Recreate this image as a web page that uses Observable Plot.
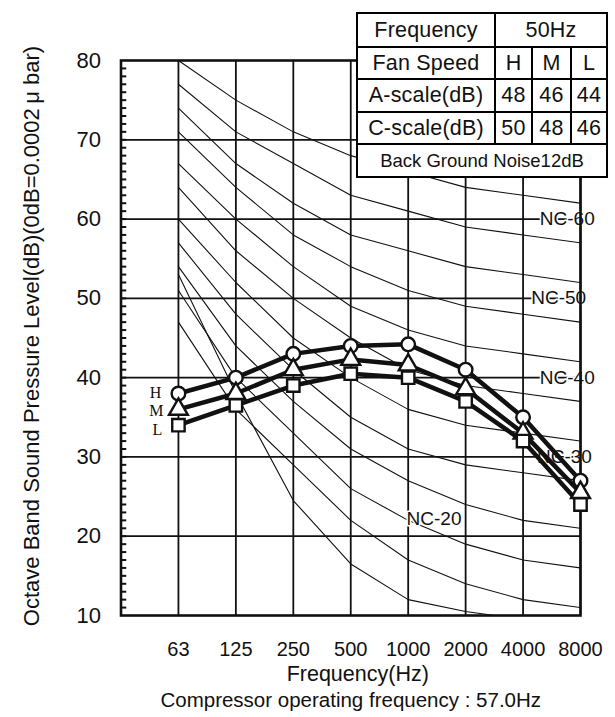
<!DOCTYPE html>
<html><head><meta charset="utf-8">
<script src="https://cdn.jsdelivr.net/npm/d3@7"></script>
<script src="https://cdn.jsdelivr.net/npm/@observablehq/plot@0.6"></script>
<style>
body{margin:0;background:#fff;font-family:"Liberation Sans",Arial,sans-serif;}
#wrap{position:relative;width:615px;height:717px;overflow:hidden;}
#tbl{position:absolute;left:356px;top:12px;width:252px;height:166px;display:grid;background:#000;padding:2px;gap:2px;box-sizing:border-box;
 grid-template-columns:136px 35px 37px 34px;grid-template-rows:32px 30px 31px 30px 31px;}
#tbl div{background:#fff;display:flex;align-items:center;justify-content:center;font-size:21.5px;color:#111;white-space:nowrap;letter-spacing:0.2px;}
#tbl div.small{font-size:18.5px;letter-spacing:0;}
</style></head>
<body><div id="wrap"></div>
<script>
// ---- data ----
const freqLabels = ["63","125","250","500","1000","2000","4000","8000"];
const speedNames = ["H","M","L"];
const splHigh = [38, 40, 43, 44, 44.2, 41, 35, 27];
const splMid  = [36, 38, 41, 42.3, 41.6, 38.6, 33, 25.5];
const splLow  = [34, 36.5, 39, 40.5, 40, 37, 32, 24];
const yTicks = [10, 20, 30, 40, 50, 60, 70, 80];

const ncNames = ["NC-10","NC-15","NC-20","NC-25","NC-30","NC-35","NC-40","NC-45","NC-50","NC-55","NC-60","NC-65"];
const ncValues = [
  [53, 38, 24.5, 16.5, 12, 10.5, 9.5, 9],
  [47, 36, 29, 22, 17, 14, 12, 11],
  [51, 40, 33, 26, 22, 19, 17, 16],
  [54, 44, 37, 31, 27, 24, 22, 21],
  [57, 48, 41, 35, 31, 29, 28, 27],
  [60, 52, 45, 40, 36, 34, 33, 32],
  [64, 56, 50, 45, 41, 39, 38, 37],
  [67, 60, 54, 49, 46, 44, 43, 42],
  [71, 64, 58, 54, 51, 49, 48, 47],
  [74, 67, 62, 58, 56, 54, 53, 52],
  [77, 71, 67, 63, 61, 59, 58, 57],
  [80, 75, 71, 68, 66, 64, 63, 62]
];
const ncLabelText = ["NC-60","NC-50","NC-40","NC-30","NC-20"];
const ncLabelLevel = [60, 50, 40, 30, 22.2];
const ncLabelBand = [7.77, 7.62, 7.77, 7.72, 5.45];

const tableRows = [
  ["Frequency", "50Hz"],
  ["Fan Speed", "H", "M", "L"],
  ["A-scale(dB)", "48", "46", "44"],
  ["C-scale(dB)", "50", "48", "46"],
  ["Back Ground Noise12dB"]
];
const yTitle = "Octave Band Sound Pressure Level(dB)(0dB=0.0002\u2009\u03bc bar)";
const xTitle = "Frequency(Hz)";
const caption = "Compressor operating frequency : 57.0Hz";

// ---- build tables for Plot ----
const series = [splHigh, splMid, splLow];
const pts = [];
series.forEach((arr, s) => arr.forEach((v, i) => pts.push({speed: speedNames[s], band: i + 1, db: v})));
const ncPts = [];
ncValues.forEach((arr, k) => arr.forEach((v, i) => ncPts.push({nc: ncNames[k], band: i + 1, db: v})));
const ncLabels = ncLabelText.map((t, i) => ({t, band: ncLabelBand[i], db: ncLabelLevel[i]}));
const speedLabels = speedNames.map((s, k) => ({s, band: 1, db: series[k][0]}));

const font = "Liberation Sans, Arial, sans-serif";
const serif = "Liberation Serif, serif";
const chart = Plot.plot({
  width: 615, height: 717,
  marginLeft: 120.5, marginRight: 35, marginTop: 60, marginBottom: 102,
  style: {fontFamily: font, background: "white", color: "#111"},
  x: {type: "linear", domain: [0, 8], axis: null},
  y: {domain: [10, 80], axis: null},
  marks: [
    Plot.ruleX(d3.range(1, 9), {stroke: "#111", strokeWidth: 1.8}),
    Plot.ruleY(yTicks.slice(1, -1), {stroke: "#111", strokeWidth: 1.8}),
    Plot.ruleY(d3.range(11, 80), {x1: 0, x2: 0.1, stroke: "#111", strokeWidth: 2}),
    Plot.line(ncPts, {x: "band", y: "db", z: "nc", stroke: "#111", strokeWidth: 1.1, clip: true}),
    Plot.text(ncLabels, {x: "band", y: "db", text: "t", fontSize: 19, fill: "#111", stroke: "white", strokeWidth: 3}),
    Plot.frame({stroke: "#111", strokeWidth: 2.6}),
    Plot.axisY({ticks: yTicks, tickSize: 0, tickPadding: 20, fontSize: 22, label: null}),
    Plot.axisX({ticks: d3.range(1, 9), tickFormat: i => freqLabels[i - 1], tickSize: 0, tickPadding: 26, fontSize: 20, label: null}),
    Plot.line(pts, {x: "band", y: "db", z: "speed", stroke: "#111", strokeWidth: 4.5}),
    Plot.dot(pts.filter(d => d.speed === "H"), {x: "band", y: "db", symbol: "circle", r: 6.8, fill: "white", stroke: "#111", strokeWidth: 2.4}),
    Plot.dot(pts.filter(d => d.speed === "M"), {x: "band", y: "db", symbol: "triangle", r: 7, fill: "white", stroke: "#111", strokeWidth: 2.4}),
    Plot.dot(pts.filter(d => d.speed === "L"), {x: "band", y: "db", symbol: "square", r: 7, fill: "white", stroke: "#111", strokeWidth: 2.4}),
    Plot.text(speedLabels.slice(0, 1), {x: "band", y: "db", text: "s", dx: -23, dy: -1, fontSize: 16, fontFamily: serif, fill: "#111"}),
    Plot.text(speedLabels.slice(1, 2), {x: "band", y: "db", text: "s", dx: -22, dy: 2, fontSize: 16, fontFamily: serif, fill: "#111"}),
    Plot.text(speedLabels.slice(2, 3), {x: "band", y: "db", text: "s", dx: -21, dy: 5, fontSize: 16, fontFamily: serif, fill: "#111"}),
    Plot.text([yTitle], {text: d => d, frameAnchor: "left", textAnchor: "middle", lineAnchor: "middle", rotate: -90, dx: -89, dy: -2, fontSize: 22, fill: "#111"}),
    Plot.text([xTitle], {text: d => d, frameAnchor: "bottom", lineAnchor: "middle", dx: 7, dy: 59, fontSize: 21.5, fill: "#111"}),
    Plot.text([caption], {text: d => d, frameAnchor: "bottom", lineAnchor: "middle", dy: 85, fontSize: 20.5, fill: "#111"})
  ]
});
const wrap = document.getElementById("wrap");
wrap.appendChild(chart);

// table overlay
const tbl = document.createElement("div");
tbl.id = "tbl";
tableRows.forEach((row, r) => {
  row.forEach((cell, c) => {
    const d = document.createElement("div");
    d.textContent = cell;
    if (row.length === 2 && c === 1) d.style.gridColumn = "2 / span 3";
    if (row.length === 1) { d.style.gridColumn = "1 / span 4"; d.className = "small"; }
    tbl.appendChild(d);
  });
});
wrap.appendChild(tbl);
</script>
</body></html>
